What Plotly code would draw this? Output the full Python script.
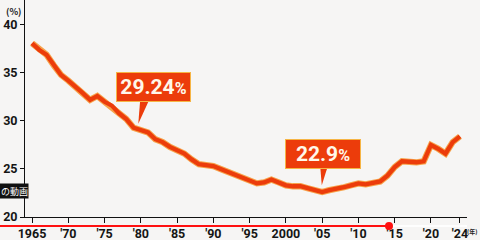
import plotly.graph_objects as go

years = list(range(1965, 2025))
values = [38.1, 37.4, 36.9, 35.8, 34.8, 34.2, 33.6, 32.9, 32.2, 32.6,
          32.0, 31.6, 30.8, 30.2, 29.3, 29.0, 28.8, 28.1, 27.8, 27.3,
          27.0, 26.6, 26.0, 25.5, 25.4, 25.3, 25.0, 24.7, 24.3, 24.1,
          23.7, 23.5, 23.6, 23.9, 23.6, 23.3, 23.2, 23.2, 23.0, 22.8,
          22.6, 22.8, 22.9, 23.1, 23.3, 23.5, 23.4, 23.6, 23.7, 24.3,
          25.2, 25.8, 25.7, 25.7, 25.8, 27.5, 27.1, 26.6, 27.8, 28.4]

x_tickvals = [1965, 1970, 1975, 1980, 1985, 1990, 1995, 2000, 2005, 2010, 2015, 2020, 2024]
x_ticktext = ["1965", "'70", "'75", "'80", "'85", "'90", "'95", "2000", "'05", "'10", "'15", "'20", "'24"]
y_tickvals = [20, 25, 30, 35, 40]
y_ticktext = ["20", "25", "30", "35", "40"]

callout_labels = ["29.24", "22.9"]

RED = "#ec3c0b"
TICKFONT = dict(family="Roboto, sans-serif", size=12.5, color="#151515", weight="bold")

fig = go.Figure()
fig.add_trace(go.Scatter(x=years, y=values, mode="lines",
                         line=dict(color="#f7a24a", width=6.3), hoverinfo="skip"))
fig.add_trace(go.Scatter(x=years, y=values, mode="lines",
                         line=dict(color=RED, width=4.3), hoverinfo="skip"))

shapes = []
# callout pointers (data coords)
shapes.append(dict(type="path", xref="x", yref="y", layer="above",
                   path="M 1979.9 32.1 L 1979.65 29.7 L 1981.1 32.1 Z",
                   fillcolor=RED, line=dict(width=0)))
shapes.append(dict(type="path", xref="x", yref="y", layer="above",
                   path="M 2004.75 25.1 L 2004.95 23.3 L 2005.7 25.1 Z",
                   fillcolor=RED, line=dict(width=0)))
# video overlay decorations (paper coords)
def px(xp):
    return (xp - 25) / 442.0
def py(yp):
    return (217 - yp) / 217.0
shapes.append(dict(type="rect", xref="paper", yref="paper", layer="above",
                   x0=px(0), x1=px(28.5), y0=py(198.5), y1=py(183.5),
                   fillcolor="#111111", line=dict(width=0)))
shapes.append(dict(type="line", xref="paper", yref="paper", layer="above",
                   x0=px(389), x1=px(467), y0=py(226), y1=py(226),
                   line=dict(color="rgba(255,255,255,0.9)", width=2)))
shapes.append(dict(type="line", xref="paper", yref="paper", layer="above",
                   x0=px(0), x1=px(389), y0=py(226), y1=py(226),
                   line=dict(color="#ff1010", width=2)))
shapes.append(dict(type="circle", xref="paper", yref="paper", layer="above",
                   x0=px(385), x1=px(393), y0=py(230), y1=py(222),
                   fillcolor="#ff1010", line=dict(width=0)))

CALLFONT = dict(family="Roboto, sans-serif", size=21, color="#fff8ea", weight="bold")
annotations = [
    dict(x=1981.71, y=33.49, xref="x", yref="y", showarrow=False,
         xanchor="center", yanchor="middle", width=71, height=26,
         text=callout_labels[0] + "<span style='font-size:16px'>%</span>",
         font=CALLFONT, bgcolor=RED, bordercolor="#f6b545", borderwidth=1, borderpad=1),
    dict(x=2005.12, y=26.56, xref="x", yref="y", showarrow=False,
         xanchor="center", yanchor="middle", width=72, height=26,
         text=callout_labels[1] + "<span style='font-size:16px'>%</span>",
         font=CALLFONT, bgcolor=RED, bordercolor="#f6b545", borderwidth=1, borderpad=1),
    dict(x=px(13), y=py(11), xref="paper", yref="paper", showarrow=False,
         xanchor="center", yanchor="middle",
         text="(%)", font=dict(family="Noto Sans CJK JP", size=9, color="#222", weight="bold")),
    dict(x=px(480), y=py(231), xref="paper", yref="paper", showarrow=False,
         xanchor="right", yanchor="middle",
         text="(年)", font=dict(family="Noto Sans CJK JP", size=6, color="#222", weight="bold")),
    dict(x=px(14), y=py(191), xref="paper", yref="paper", showarrow=False,
         xanchor="center", yanchor="middle",
         text="の動画", font=dict(family="Noto Sans CJK JP", size=9, color="#ffffff")),
]

fig.update_layout(
    width=480, height=240,
    margin=dict(l=25, r=13, t=0, b=23),
    paper_bgcolor="#f6f5f4", plot_bgcolor="#f6f5f4",
    showlegend=False,
    shapes=shapes, annotations=annotations,
    xaxis=dict(range=[1964.03, 2024.97], tickvals=x_tickvals, ticktext=x_ticktext,
               showgrid=False, zeroline=False, showline=True, linecolor="#111", linewidth=1,
               ticks="outside", ticklen=5, tickcolor="#111", tickfont=TICKFONT),
    yaxis=dict(range=[20, 42.6], tickvals=y_tickvals, ticktext=y_ticktext,
               showgrid=False, zeroline=False, showline=True, linecolor="#111", linewidth=1,
               ticks="outside", ticklen=4, tickcolor="#111", tickfont=TICKFONT),
)

fig.write_html("out.html")
